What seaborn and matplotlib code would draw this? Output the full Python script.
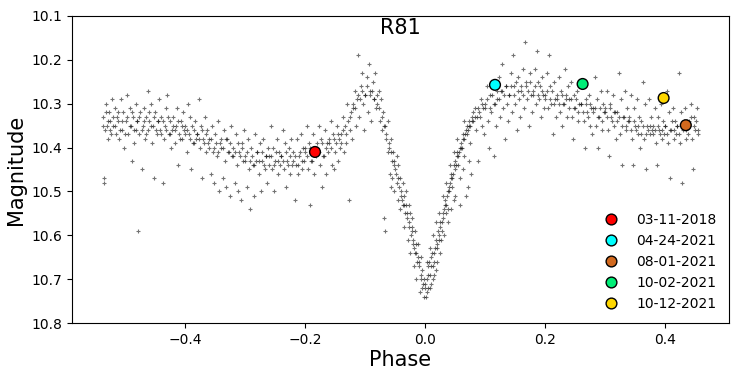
import numpy as np
import pandas as pd
import matplotlib
matplotlib.use("Agg")
import matplotlib.pyplot as plt
import seaborn as sns

left_branch = [
(-0.537,10.33),(-0.535,10.47),(-0.534,10.48),(-0.533,10.36),(-0.531,10.30),(-0.530,10.35),(-0.528,10.38),(-0.526,10.32),(-0.525,10.34),(-0.523,10.37),(-0.522,10.29),
(-0.519,10.35),(-0.517,10.31),(-0.515,10.37),(-0.513,10.33),(-0.511,10.34),(-0.509,10.38),(-0.507,10.29),(-0.505,10.36),(-0.503,10.32),(-0.501,10.40),
(-0.498,10.34),(-0.496,10.28),(-0.494,10.37),(-0.492,10.31),(-0.490,10.35),(-0.488,10.43),(-0.486,10.33),(-0.484,10.39),(-0.482,10.36),(-0.481,10.30),
(-0.479,10.34),(-0.478,10.59),(-0.476,10.37),(-0.474,10.32),(-0.472,10.45),(-0.470,10.35),(-0.468,10.31),(-0.466,10.38),(-0.464,10.33),(-0.462,10.27),(-0.461,10.36),
(-0.459,10.34),(-0.457,10.30),(-0.455,10.39),(-0.453,10.35),(-0.451,10.47),(-0.449,10.32),(-0.447,10.37),(-0.445,10.34),(-0.443,10.29),(-0.441,10.36),
(-0.439,10.33),(-0.437,10.48),(-0.435,10.38),(-0.433,10.35),(-0.431,10.31),(-0.429,10.28),(-0.427,10.37),(-0.425,10.34),(-0.423,10.40),(-0.421,10.36),
(-0.419,10.33),(-0.417,10.39),(-0.415,10.35),(-0.413,10.31),(-0.411,10.44),(-0.409,10.37),(-0.407,10.34),(-0.405,10.38),(-0.403,10.32),(-0.401,10.36),
(-0.399,10.35),(-0.397,10.41),(-0.395,10.30),(-0.393,10.37),(-0.391,10.33),(-0.389,10.45),(-0.387,10.39),(-0.385,10.36),(-0.383,10.34),(-0.381,10.38),
(-0.379,10.37),(-0.377,10.29),(-0.375,10.40),(-0.373,10.35),(-0.371,10.47),(-0.369,10.38),(-0.367,10.33),(-0.365,10.41),(-0.363,10.36),(-0.361,10.39),
(-0.359,10.38),(-0.357,10.46),(-0.355,10.35),(-0.353,10.41),(-0.351,10.48),(-0.349,10.37),(-0.347,10.42),(-0.345,10.34),(-0.343,10.50),(-0.341,10.39),
(-0.339,10.40),(-0.337,10.47),(-0.335,10.36),(-0.333,10.43),(-0.331,10.49),(-0.329,10.38),(-0.327,10.41),(-0.325,10.51),(-0.323,10.35),(-0.321,10.42),
(-0.319,10.40),(-0.317,10.48),(-0.315,10.37),(-0.313,10.44),(-0.311,10.50),(-0.309,10.41),(-0.307,10.52),(-0.305,10.39),(-0.303,10.43),(-0.301,10.36),
(-0.299,10.42),(-0.297,10.49),(-0.295,10.38),(-0.293,10.45),(-0.291,10.54),(-0.289,10.40),(-0.287,10.44),(-0.285,10.51),(-0.283,10.37),(-0.281,10.43),
(-0.279,10.41),(-0.277,10.46),(-0.275,10.39),(-0.273,10.50),(-0.271,10.43),(-0.269,10.38),(-0.267,10.45),(-0.265,10.42),(-0.263,10.48),(-0.261,10.40),
(-0.259,10.42),(-0.257,10.35),(-0.255,10.45),(-0.253,10.40),(-0.251,10.50),(-0.249,10.43),(-0.247,10.38),(-0.245,10.46),(-0.243,10.41),(-0.241,10.44),
(-0.239,10.42),(-0.237,10.36),(-0.235,10.45),(-0.233,10.39),(-0.231,10.49),(-0.229,10.43),(-0.227,10.40),(-0.225,10.46),(-0.223,10.38),(-0.221,10.44),
(-0.219,10.41),(-0.217,10.52),(-0.215,10.44),(-0.213,10.38),(-0.211,10.46),(-0.209,10.42),(-0.207,10.37),(-0.205,10.45),(-0.203,10.40),(-0.201,10.43),
(-0.199,10.41),(-0.197,10.35),(-0.195,10.45),(-0.193,10.39),(-0.191,10.53),(-0.189,10.43),(-0.187,10.37),(-0.185,10.46),(-0.183,10.40),(-0.181,10.42),
(-0.179,10.40),(-0.177,10.35),(-0.175,10.44),(-0.173,10.38),(-0.171,10.49),(-0.169,10.42),(-0.167,10.36),(-0.165,10.46),(-0.163,10.39),(-0.161,10.41),
(-0.159,10.39),(-0.157,10.34),(-0.155,10.44),(-0.153,10.37),(-0.151,10.45),(-0.149,10.41),(-0.147,10.35),(-0.145,10.43),(-0.143,10.38),(-0.141,10.40),
]
hump = [
(-0.139,10.37),(-0.137,10.33),(-0.135,10.41),(-0.133,10.35),(-0.131,10.39),(-0.129,10.30),(-0.127,10.52),(-0.125,10.36),(-0.123,10.32),(-0.121,10.38),
(-0.119,10.31),(-0.117,10.27),(-0.115,10.35),(-0.113,10.29),(-0.111,10.19),(-0.109,10.33),(-0.107,10.26),(-0.105,10.23),(-0.103,10.30),(-0.101,10.36),
(-0.099,10.28),(-0.097,10.24),(-0.095,10.32),(-0.093,10.21),(-0.091,10.27),(-0.089,10.34),(-0.087,10.25),(-0.085,10.29),(-0.083,10.23),(-0.081,10.31),
(-0.079,10.30),(-0.077,10.27),(-0.075,10.34),(-0.073,10.29),(-0.071,10.36),(-0.069,10.32),(-0.068,10.56),(-0.067,10.59),(-0.066,10.35),(-0.064,10.38),(-0.062,10.41),(-0.061,10.34),
]
eclipse = [
(-0.059,10.40),(-0.057,10.38),(-0.055,10.43),(-0.053,10.41),(-0.051,10.44),
(-0.049,10.45),(-0.047,10.48),(-0.045,10.44),(-0.043,10.49),(-0.041,10.47),(-0.040,10.51),
(-0.039,10.50),(-0.037,10.53),(-0.035,10.51),(-0.033,10.55),(-0.031,10.53),
(-0.029,10.56),(-0.027,10.58),(-0.025,10.55),(-0.023,10.60),(-0.021,10.58),(-0.020,10.62),
(-0.019,10.61),(-0.017,10.64),(-0.015,10.62),(-0.013,10.66),(-0.011,10.65),
(-0.009,10.67),(-0.007,10.70),(-0.005,10.68),(-0.004,10.72),(-0.002,10.70),
(0.000,10.71),(0.002,10.74),(0.003,10.73),(0.005,10.69),(0.007,10.66),(0.008,10.72),
(0.010,10.67),(0.012,10.64),(0.013,10.70),(0.015,10.66),(0.017,10.63),(0.019,10.68),
(0.021,10.62),(0.023,10.60),(0.025,10.58),(0.027,10.61),(0.029,10.57),
(0.031,10.56),(0.033,10.53),(0.035,10.55),(0.037,10.51),(0.039,10.54),
(0.041,10.50),(0.043,10.47),(0.045,10.49),(0.047,10.46),(0.049,10.52),
(0.051,10.45),(0.053,10.42),(0.055,10.44),(0.057,10.41),(0.059,10.53),
(0.061,10.40),(0.063,10.38),(0.065,10.42),(0.067,10.37),(0.069,10.51),
(0.071,10.37),(0.073,10.35),(0.075,10.39),(0.077,10.46),(0.079,10.34),
]
eclipse_edges = [
(-0.058,10.46),(-0.056,10.49),(-0.054,10.47),(-0.052,10.50),(-0.046,10.42),(-0.044,10.52),
(-0.042,10.54),(-0.036,10.48),(-0.034,10.58),(-0.032,10.50),(-0.028,10.61),(-0.026,10.53),
(-0.024,10.64),(-0.022,10.56),(-0.018,10.67),(-0.016,10.59),(-0.014,10.70),(-0.012,10.62),
(-0.008,10.73),(-0.006,10.65),(-0.001,10.74),(0.004,10.66),(0.006,10.72),(0.009,10.63),
(0.011,10.71),(0.014,10.60),(0.016,10.69),(0.018,10.57),(0.020,10.66),(0.024,10.55),
(0.026,10.64),(0.030,10.51),(0.032,10.60),(0.036,10.48),(0.038,10.57),(0.042,10.44),
(0.044,10.54),(0.048,10.41),(0.050,10.51),(0.054,10.38),(0.058,10.47),(0.064,10.45),
(0.066,10.34),(0.072,10.49),(0.074,10.43),
]
right_branch = [
(0.081,10.34),(0.083,10.31),(0.085,10.36),(0.087,10.33),(0.089,10.43),(0.091,10.32),(0.093,10.29),(0.095,10.35),(0.097,10.31),(0.099,10.37),
(0.101,10.30),(0.103,10.26),(0.105,10.34),(0.107,10.40),(0.109,10.28),(0.111,10.32),(0.113,10.25),(0.115,10.42),(0.117,10.30),(0.119,10.35),
(0.121,10.29),(0.123,10.24),(0.125,10.33),(0.127,10.27),(0.129,10.21),(0.131,10.31),(0.133,10.38),(0.135,10.26),(0.137,10.30),(0.139,10.34),
(0.141,10.28),(0.143,10.23),(0.145,10.32),(0.147,10.19),(0.149,10.26),(0.151,10.30),(0.153,10.36),(0.155,10.24),(0.157,10.29),(0.159,10.33),
(0.161,10.27),(0.163,10.22),(0.165,10.31),(0.167,10.16),(0.169,10.25),(0.171,10.29),(0.173,10.35),(0.175,10.23),(0.177,10.28),(0.179,10.32),
(0.181,10.27),(0.183,10.22),(0.185,10.30),(0.187,10.18),(0.189,10.25),(0.191,10.29),(0.193,10.33),(0.195,10.24),(0.197,10.28),(0.199,10.31),
(0.201,10.28),(0.203,10.23),(0.205,10.31),(0.207,10.19),(0.209,10.26),(0.211,10.30),(0.213,10.37),(0.215,10.25),(0.217,10.29),(0.219,10.33),
(0.221,10.29),(0.223,10.24),(0.225,10.32),(0.227,10.27),(0.229,10.35),(0.231,10.30),(0.233,10.22),(0.235,10.28),(0.237,10.33),(0.239,10.26),
(0.241,10.29),(0.243,10.25),(0.245,10.33),(0.247,10.38),(0.249,10.28),(0.251,10.31),(0.253,10.27),(0.255,10.34),(0.257,10.30),(0.259,10.26),
(0.261,10.30),(0.263,10.26),(0.265,10.34),(0.267,10.40),(0.269,10.29),(0.271,10.32),(0.273,10.28),(0.275,10.35),(0.277,10.31),(0.279,10.37),
(0.281,10.31),(0.283,10.24),(0.285,10.35),(0.287,10.29),(0.289,10.40),(0.291,10.33),(0.293,10.27),(0.295,10.36),(0.297,10.30),(0.299,10.32),
(0.301,10.31),(0.303,10.27),(0.305,10.36),(0.307,10.42),(0.309,10.30),(0.311,10.33),(0.313,10.28),(0.315,10.35),(0.317,10.32),(0.319,10.38),
(0.321,10.32),(0.323,10.23),(0.325,10.37),(0.327,10.29),(0.329,10.44),(0.331,10.33),(0.333,10.27),(0.335,10.36),(0.337,10.31),(0.339,10.34),
(0.341,10.33),(0.343,10.28),(0.345,10.38),(0.347,10.44),(0.349,10.31),(0.351,10.35),(0.353,10.29),(0.355,10.37),(0.357,10.33),(0.359,10.40),
(0.361,10.34),(0.363,10.25),(0.365,10.38),(0.367,10.30),(0.369,10.45),(0.371,10.35),(0.373,10.29),(0.375,10.37),(0.377,10.33),(0.379,10.36),
(0.381,10.35),(0.383,10.31),(0.385,10.39),(0.387,10.44),(0.389,10.33),(0.391,10.36),(0.393,10.30),(0.395,10.38),(0.397,10.34),(0.399,10.37),
(0.401,10.35),(0.403,10.27),(0.405,10.39),(0.407,10.32),(0.409,10.47),(0.411,10.36),(0.413,10.31),(0.415,10.38),(0.417,10.34),(0.419,10.37),
(0.421,10.35),(0.423,10.23),(0.425,10.39),(0.427,10.32),(0.429,10.48),(0.431,10.36),(0.433,10.31),(0.435,10.38),(0.437,10.34),(0.439,10.37),
(0.441,10.34),(0.443,10.30),(0.445,10.38),(0.447,10.45),(0.449,10.33),(0.451,10.36),(0.453,10.31),(0.455,10.37),
]
# Dense core of the light curve
core = [
(-0.536,10.35),(-0.532,10.32),(-0.528,10.34),(-0.524,10.36),(-0.520,10.33),
(-0.516,10.35),(-0.512,10.32),(-0.508,10.36),(-0.504,10.34),(-0.500,10.37),
(-0.496,10.33),(-0.492,10.35),(-0.488,10.32),(-0.484,10.36),(-0.480,10.34),
(-0.476,10.33),(-0.472,10.36),(-0.468,10.34),(-0.464,10.37),(-0.460,10.32),
(-0.456,10.35),(-0.452,10.33),(-0.448,10.36),(-0.444,10.34),(-0.440,10.37),
(-0.436,10.34),(-0.432,10.36),(-0.428,10.33),(-0.424,10.37),(-0.420,10.35),
(-0.416,10.36),(-0.412,10.34),(-0.408,10.38),(-0.404,10.35),(-0.400,10.37),
(-0.396,10.36),(-0.392,10.38),(-0.388,10.35),(-0.384,10.39),(-0.380,10.37),
(-0.376,10.38),(-0.372,10.36),(-0.368,10.39),(-0.364,10.37),(-0.360,10.40),
(-0.356,10.38),(-0.352,10.40),(-0.348,10.39),(-0.344,10.41),(-0.340,10.38),
(-0.336,10.40),(-0.332,10.38),(-0.328,10.41),(-0.324,10.39),(-0.320,10.42),
(-0.316,10.41),(-0.312,10.39),(-0.308,10.42),(-0.304,10.40),(-0.300,10.43),
(-0.296,10.41),(-0.292,10.43),(-0.288,10.42),(-0.284,10.44),(-0.280,10.41),
(-0.276,10.43),(-0.272,10.41),(-0.268,10.44),(-0.264,10.42),(-0.260,10.44),
(-0.256,10.42),(-0.252,10.44),(-0.248,10.41),(-0.244,10.43),(-0.240,10.42),
(-0.236,10.43),(-0.232,10.41),(-0.228,10.44),(-0.224,10.42),(-0.220,10.43),
(-0.216,10.42),(-0.212,10.44),(-0.208,10.41),(-0.204,10.43),(-0.200,10.40),
(-0.196,10.42),(-0.192,10.40),(-0.188,10.43),(-0.184,10.41),(-0.180,10.39),
(-0.176,10.41),(-0.172,10.39),(-0.168,10.42),(-0.164,10.40),(-0.160,10.38),
(-0.156,10.40),(-0.152,10.38),(-0.148,10.39),(-0.144,10.37),(-0.140,10.39),
(-0.136,10.36),(-0.132,10.37),(-0.128,10.34),(-0.124,10.33),(-0.120,10.30),
(-0.116,10.31),(-0.112,10.28),(-0.108,10.29),(-0.104,10.27),(-0.100,10.28),
(-0.096,10.26),(-0.092,10.28),(-0.088,10.27),(-0.084,10.29),(-0.080,10.28),
(-0.076,10.31),(-0.072,10.33),(-0.068,10.35),(-0.064,10.37),(-0.060,10.39),
(-0.056,10.41),(-0.052,10.43),(-0.048,10.46),(-0.044,10.47),(-0.038,10.52),
(-0.034,10.53),(-0.030,10.55),(-0.026,10.57),(-0.022,10.59),(-0.018,10.63),
(-0.014,10.64),(-0.010,10.66),(-0.006,10.69),(-0.003,10.71),(0.001,10.72),
(0.004,10.70),(0.006,10.67),(0.009,10.69),(0.011,10.65),(0.014,10.67),
(0.016,10.64),(0.018,10.61),(0.020,10.63),(0.022,10.59),(0.024,10.61),
(0.026,10.57),(0.028,10.59),(0.030,10.55),(0.032,10.54),(0.034,10.52),
(0.036,10.53),(0.038,10.50),(0.040,10.49),(0.042,10.48),(0.044,10.46),
(0.046,10.47),(0.048,10.44),(0.050,10.43),(0.052,10.44),(0.054,10.41),
(0.056,10.42),(0.058,10.40),(0.060,10.39),(0.062,10.40),(0.064,10.37),
(0.066,10.38),(0.068,10.36),(0.070,10.35),(0.072,10.36),(0.074,10.34),
(0.076,10.35),(0.078,10.33),(0.080,10.32),(0.084,10.33),(0.088,10.31),
(0.092,10.33),(0.096,10.30),(0.100,10.31),(0.104,10.29),(0.108,10.31),
(0.112,10.28),(0.116,10.30),(0.120,10.27),(0.124,10.29),(0.128,10.27),
(0.132,10.28),(0.136,10.26),(0.140,10.28),(0.144,10.26),(0.148,10.28),
(0.152,10.25),(0.156,10.27),(0.160,10.26),(0.164,10.28),(0.168,10.26),
(0.172,10.27),(0.176,10.25),(0.180,10.28),(0.184,10.26),(0.188,10.28),
(0.192,10.26),(0.196,10.27),(0.200,10.29),(0.204,10.27),(0.208,10.29),
(0.212,10.27),(0.216,10.30),(0.220,10.28),(0.224,10.30),(0.228,10.28),
(0.232,10.30),(0.236,10.29),(0.240,10.31),(0.244,10.29),(0.248,10.31),
(0.252,10.29),(0.256,10.32),(0.260,10.30),(0.264,10.32),(0.268,10.30),
(0.272,10.33),(0.276,10.30),(0.280,10.32),(0.284,10.31),(0.288,10.33),
(0.292,10.31),(0.296,10.34),(0.300,10.32),(0.304,10.33),(0.308,10.31),
(0.312,10.34),(0.316,10.32),(0.320,10.34),(0.324,10.33),(0.328,10.35),
(0.332,10.33),(0.336,10.35),(0.340,10.34),(0.344,10.36),(0.348,10.34),
(0.352,10.36),(0.356,10.35),(0.360,10.37),(0.364,10.35),(0.368,10.37),
(0.372,10.36),(0.376,10.35),(0.380,10.37),(0.384,10.36),(0.388,10.35),
(0.392,10.37),(0.396,10.36),(0.400,10.35),(0.404,10.37),(0.408,10.36),
(0.412,10.34),(0.416,10.36),(0.420,10.35),(0.424,10.37),(0.428,10.35),
(0.432,10.34),(0.436,10.36),(0.440,10.35),(0.444,10.33),(0.448,10.35),
(0.452,10.34),(0.456,10.36),
]

# Highlighted epochs
epoch_dates = ["03-11-2018", "04-24-2021", "08-01-2021", "10-02-2021", "10-12-2021"]
epoch_phase = [-0.183, 0.117, 0.435, 0.263, 0.398]
epoch_mag = [10.41, 10.257, 10.349, 10.255, 10.287]
epoch_colors = ["#ff0000", "#00ffff", "#d2691e", "#00ee77", "#ffd700"]

obs = pd.DataFrame(left_branch + hump + eclipse + eclipse_edges + right_branch + core,
                   columns=["phase", "mag"])
ep = pd.DataFrame({"phase": epoch_phase, "mag": epoch_mag, "date": epoch_dates})

fig = plt.figure(figsize=(7.39, 3.78), dpi=100)
ax = fig.add_axes([0.0974, 0.1455, 0.8891, 0.8122])

sns.scatterplot(data=obs, x="phase", y="mag", ax=ax, marker="+", s=10,
                color="black", alpha=0.55, linewidth=0.8, legend=False)
sns.scatterplot(data=ep, x="phase", y="mag", hue="date", hue_order=epoch_dates,
                palette=epoch_colors, ax=ax, s=60, edgecolor="black",
                linewidth=1.0, zorder=5)

ax.set_xlim(-0.588, 0.507)
ax.set_ylim(10.8, 10.1)
ax.set_xticks([-0.4, -0.2, 0.0, 0.2, 0.4])
ax.set_yticks([10.1, 10.2, 10.3, 10.4, 10.5, 10.6, 10.7, 10.8])
ax.set_yticklabels(["10.1", "10.2", "10.3", "10.4", "10.5", "10.6", "10.7", "10.8"])
ax.tick_params(labelsize=10)
ax.set_xlabel("Phase", fontsize=15, labelpad=2)
ax.set_ylabel("Magnitude", fontsize=15, labelpad=4)
ax.text(0.5, 0.961, "R81", transform=ax.transAxes, ha="center", va="center", fontsize=15)

handles, labels = ax.get_legend_handles_labels()
leg = ax.legend(handles, labels, loc="lower right", frameon=False, fontsize=10,
                handletextpad=0.8, labelspacing=0.5, borderaxespad=0.5)
for h in leg.legend_handles:
    try:
        h.set_sizes([60])
        h.set_edgecolor("black")
    except Exception:
        pass

fig.savefig("out.png", dpi=100)
